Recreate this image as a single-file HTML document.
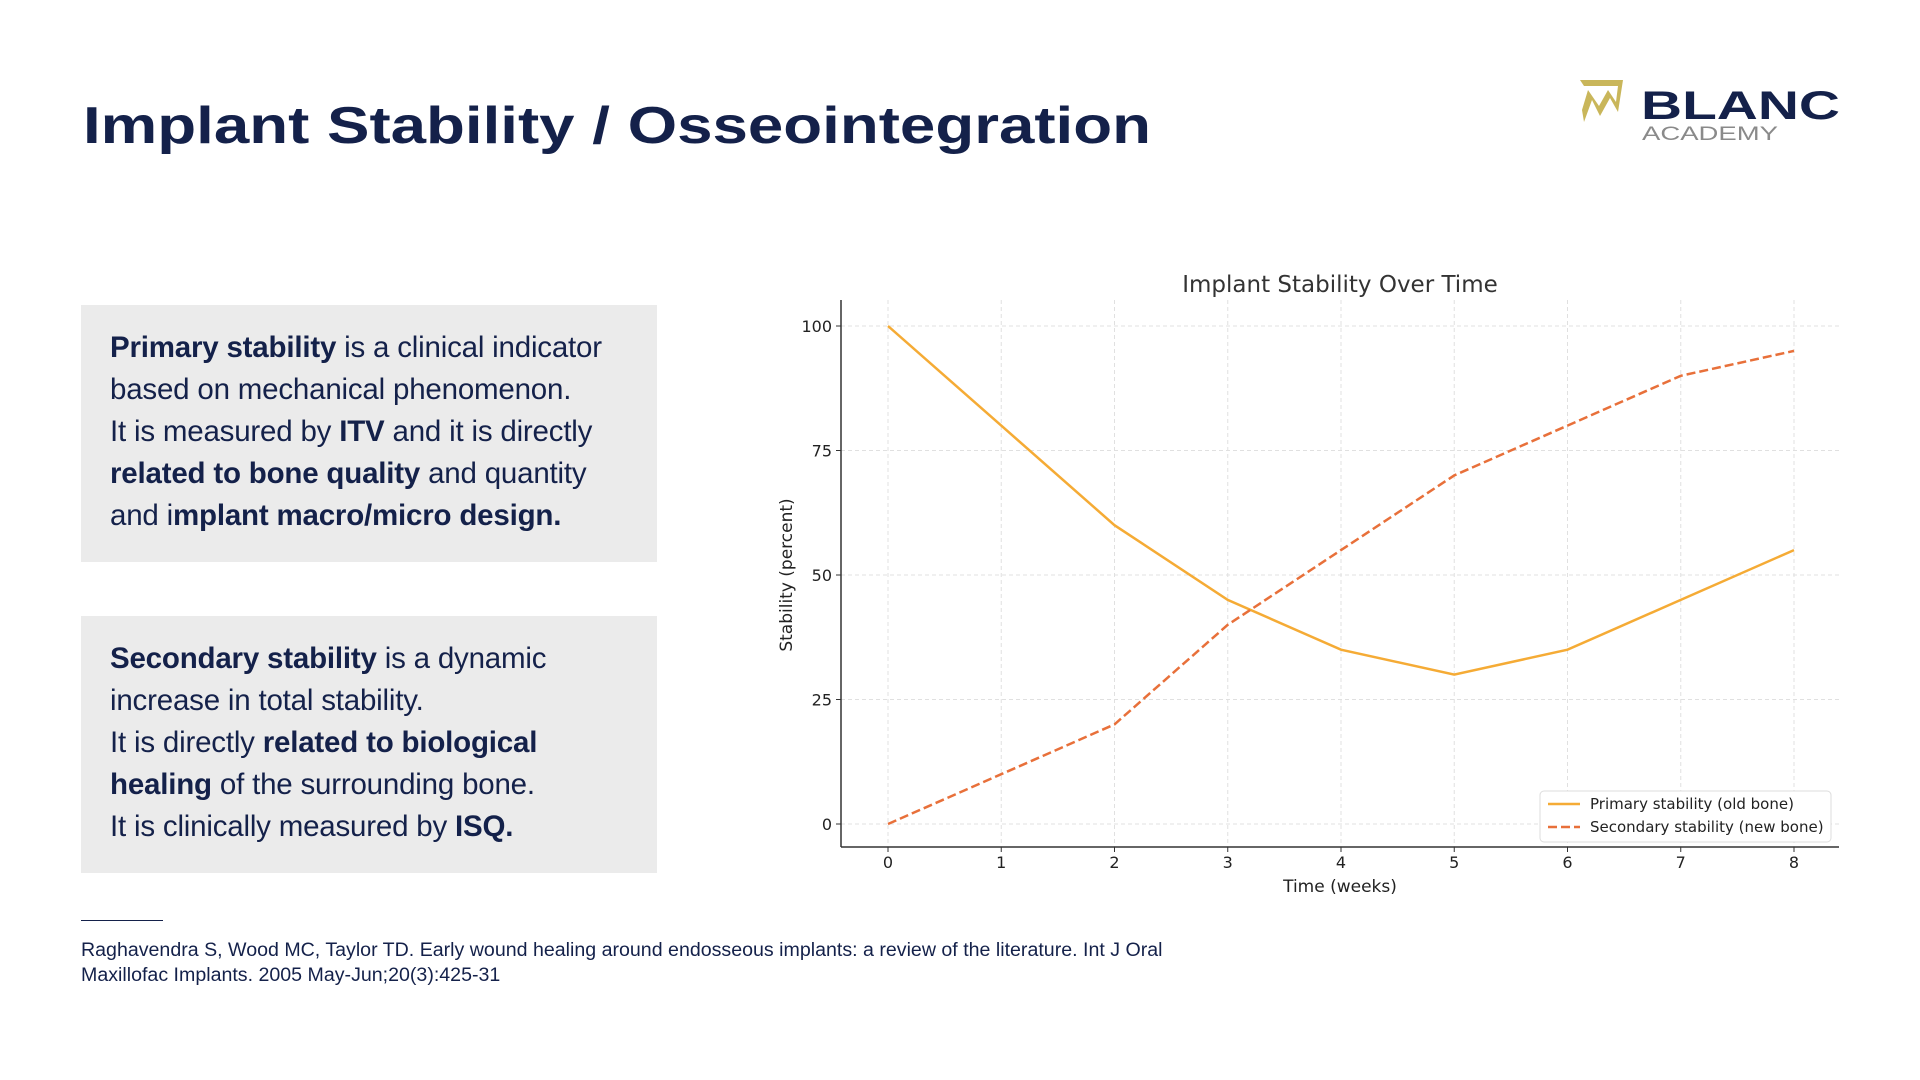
<!DOCTYPE html>
<html><head><meta charset="utf-8">
<style>
html,body{margin:0;padding:0;background:#fff;}
body{width:1920px;height:1080px;position:relative;overflow:hidden;font-family:"Liberation Sans",sans-serif;color:#14214a;}
.box{position:absolute;left:81px;width:576px;background:#ebebeb;box-sizing:border-box;padding:0 0 0 29px;font-size:29.5px;line-height:42px;letter-spacing:-0.2px;}
.box b{font-weight:bold;}
.foot{position:absolute;left:81px;top:938px;font-size:19.6px;line-height:25px;color:#14214a;}
</style></head><body>
<svg style="position:absolute;left:0;top:0" width="1200" height="170">
<text x="83" y="143" font-family="Liberation Sans" font-weight="bold" font-size="52" fill="#14214a" textLength="1068" lengthAdjust="spacingAndGlyphs">Implant Stability / Osseointegration</text>
</svg>
<svg style="position:absolute;left:1570px;top:70px" width="290" height="80">
<polygon points="10,10 53,10 48,42 40,28 30,46 22,30 14,52 12,40 18,20 29,36 38,20 46,32 48,16 14,16" fill="#c9b65a"/>
<text x="71" y="49" font-family="Liberation Sans" font-weight="bold" font-size="40" fill="#14214a" textLength="199" lengthAdjust="spacingAndGlyphs">BLANC</text>
<text x="72" y="70" font-family="Liberation Sans" font-size="19" fill="#8a8a8a" textLength="136" lengthAdjust="spacingAndGlyphs">ACADEMY</text>
</svg>

<div class="box" style="top:305px;height:257px;padding-top:22px;">
<b>Primary stability</b> is a clinical indicator<br>based on mechanical phenomenon.<br>It is measured by <b>ITV</b> and it is directly<br><b>related to bone quality</b> and quantity<br>and i<b>mplant macro/micro design.</b>
</div>
<div class="box" style="top:616px;height:257px;padding-top:22px;">
<b>Secondary stability</b> is a dynamic<br>increase in total stability.<br>It is directly <b>related to biological<br>healing</b> of the surrounding bone.<br>It is clinically measured by <b>ISQ.</b>
</div>

<div style="position:absolute;left:81px;top:920px;width:82px;height:1px;background:#14214a;"></div>
<div class="foot">Raghavendra S, Wood MC, Taylor TD. Early wound healing around endosseous implants: a review of the literature. Int J Oral<br>Maxillofac Implants. 2005 May-Jun;20(3):425-31</div>

<svg id="chart" style="position:absolute;left:0;top:0" width="1920" height="1080"></svg>
<script>
const weeks=[0,1,2,3,4,5,6,7,8];
const primary=[100,80,60,45,35,30,35,45,55];
const secondary=[0,10,20,40,55,70,80,90,95];
const yTicks=[0,25,50,75,100];
const NS='http://www.w3.org/2000/svg';
const svg=document.getElementById('chart');
const X0=888,X1=1794,Y0=824,Y100=326;
const AL=841,AR=1839,AT=300,AB=847;
function sx(v){return X0+(v-0)/(8-0)*(X1-X0);}
function sy(v){return Y0+(v/100)*(Y100-Y0);}
function mk(tag,attrs){const e=document.createElementNS(NS,tag);for(const k in attrs)e.setAttribute(k,attrs[k]);svg.appendChild(e);return e;}
const F='"DejaVu Sans",sans-serif';
weeks.forEach(w=>{const g=mk('line',{x1:sx(w),x2:sx(w),y1:AT,y2:AB,stroke:'#e0e0e0','stroke-dasharray':'4,3','stroke-width':1});


const t=mk('text',{x:sx(w),y:868,'text-anchor':'middle','font-family':F,'font-size':16,fill:'#222'});t.textContent=w;


mk('line',{x1:sx(w),x2:sx(w),y1:AB,y2:AB+5,stroke:'#333'});});
yTicks.forEach(v=>{const g=mk('line',{x1:AL,x2:AR,y1:sy(v),y2:sy(v),stroke:'#e0e0e0','stroke-dasharray':'4,3','stroke-width':1});


const t=mk('text',{x:AL-9,y:sy(v)+6,'text-anchor':'end','font-family':F,'font-size':16,fill:'#222'});t.textContent=v;


mk('line',{x1:AL-5,x2:AL,y1:sy(v),y2:sy(v),stroke:'#333'});});
mk('line',{x1:AL,x2:AL,y1:AT,y2:AB,stroke:'#333','stroke-width':1.5});
mk('line',{x1:AL,x2:AR,y1:AB,y2:AB,stroke:'#333','stroke-width':1.5});
const p1=mk('polyline',{points:weeks.map((w,i)=>sx(w)+','+sy(primary[i])).join(' '),fill:'none',stroke:'#f5ab35','stroke-width':2.5});


const p2=mk('polyline',{points:weeks.map((w,i)=>sx(w)+','+sy(secondary[i])).join(' '),fill:'none',stroke:'#e8703a','stroke-width':2.5,'stroke-dasharray':'9,4'});


let t=mk('text',{x:1340,y:292,'text-anchor':'middle','font-family':F,'font-size':23,fill:'#333'});t.textContent='Implant Stability Over Time';


t=mk('text',{x:1340,y:892,'text-anchor':'middle','font-family':F,'font-size':17,fill:'#222'});t.textContent='Time (weeks)';


t=mk('text',{x:0,y:0,'text-anchor':'middle','font-family':F,'font-size':17,fill:'#222',transform:'translate(792,575) rotate(-90)'});t.textContent='Stability (percent)';


const lg=mk('rect',{x:1540,y:791,width:291,height:51,rx:4,fill:'#fff',stroke:'#ddd'});


mk('line',{x1:1548,x2:1580,y1:804,y2:804,stroke:'#f5ab35','stroke-width':2.5});
mk('line',{x1:1548,x2:1580,y1:827,y2:827,stroke:'#e8703a','stroke-width':2.5,'stroke-dasharray':'9,4'});
t=mk('text',{x:1590,y:809,'font-family':F,'font-size':15,fill:'#222'});t.textContent='Primary stability (old bone)';


t=mk('text',{x:1590,y:832,'font-family':F,'font-size':15,fill:'#222'});t.textContent='Secondary stability (new bone)';


</script>
</body></html>
